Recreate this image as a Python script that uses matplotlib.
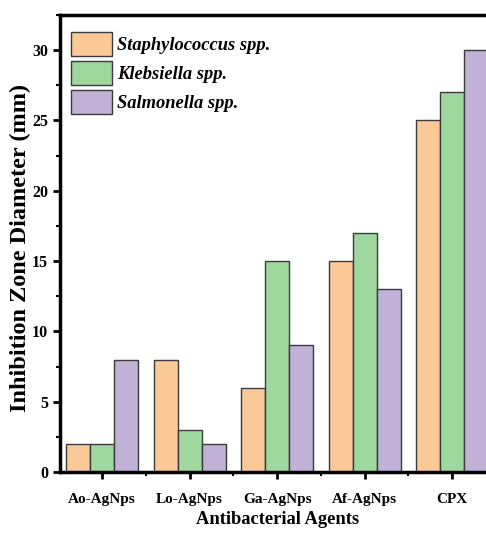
import numpy as np
import matplotlib
matplotlib.use("Agg")
import matplotlib.pyplot as plt
from matplotlib.ticker import MultipleLocator, FixedLocator

agents = ["Ao-AgNps", "Lo-AgNps", "Ga-AgNps", "Af-AgNps", "CPX"]
staph = [2, 8, 6, 15, 25]
kleb = [2, 3, 15, 17, 27]
salm = [8, 2, 9, 13, 30]
series_names = ["Staphylococcus spp", "Klebsiella spp", "Salmonella spp"]
colors = ["#FBC898", "#9FD89F", "#C1B1D7"]

plt.rcParams["font.family"] = ["Liberation Serif", "DejaVu Serif"]
plt.rcParams["font.weight"] = "bold"

fig = plt.figure(figsize=(4.86, 5.36), dpi=100)
ax = fig.add_axes([60 / 486, 1 - 472 / 536, 436 / 486, 457 / 536])

x = np.arange(len(agents))
w = 0.274
handles = []
for i, (vals, c) in enumerate(zip([staph, kleb, salm], colors)):
    b = ax.bar(x + (i - 1) * w, vals, width=w, color=c, edgecolor="#3a3a3a",
               linewidth=1.0, zorder=2)
    handles.append(b)

ax.set_xlim(-0.48, 4.5)
ax.set_ylim(0, 32.5)
ax.set_xticks(x)
ax.set_xticklabels(agents, fontsize=11, fontweight="bold")
ax.xaxis.set_minor_locator(FixedLocator(x[:-1] + 0.5))
ax.yaxis.set_major_locator(MultipleLocator(5))
ax.yaxis.set_minor_locator(MultipleLocator(2.5))
for lab in ax.get_yticklabels():
    lab.set_fontsize(11.5)
    lab.set_fontweight("bold")

ax.tick_params(axis="both", which="major", direction="out", length=5, width=2)
ax.tick_params(axis="both", which="minor", direction="out", length=3, width=1.5)
ax.tick_params(axis="x", pad=10)

for side in ["left", "bottom", "top"]:
    ax.spines[side].set_linewidth(2.5)
ax.spines["right"].set_visible(False)

ax.set_ylabel("Inhibition Zone Diameter (mm)", fontsize=17.5, fontweight="bold")
ax.yaxis.set_label_coords(-0.066, 0.49)
ax.set_xlabel("Antibacterial Agents", fontsize=13.3, fontweight="bold", labelpad=4)

labels = [n + "." for n in series_names]
leg = ax.legend(handles, labels, loc="upper left", bbox_to_anchor=(0.0252, 0.9628),
                frameon=False, prop={"size": 13.3, "weight": "bold", "style": "italic"},
                handlelength=2.2, handleheight=1.65, handletextpad=0.28,
                labelspacing=0.25, borderaxespad=0.0, borderpad=0.0)

fig.savefig("out.png", dpi=100)
